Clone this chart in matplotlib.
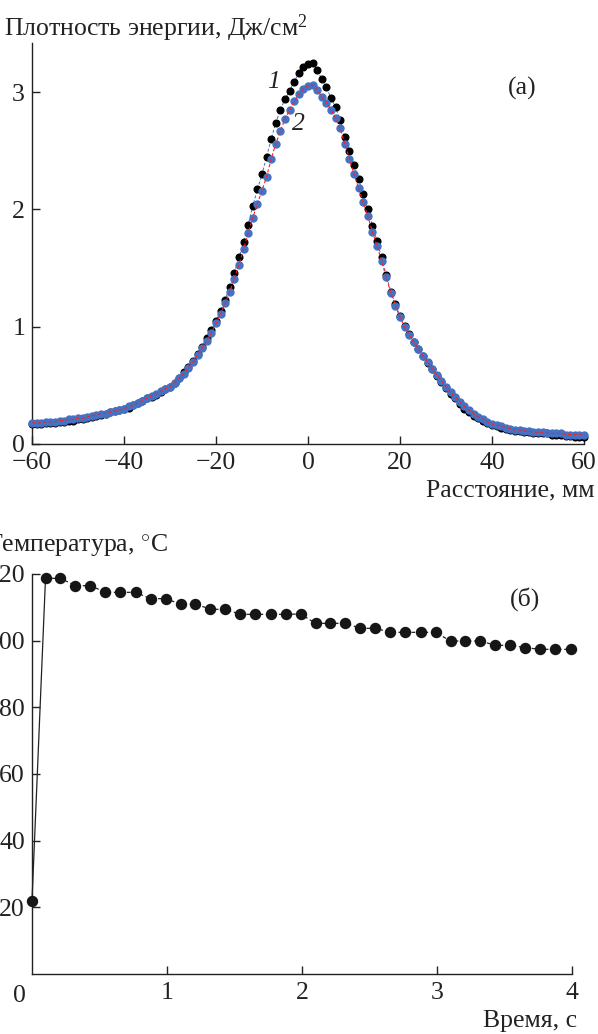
import numpy as np
import matplotlib
matplotlib.use("Agg")
import matplotlib.pyplot as plt

plt.rcParams['font.family'] = ['Liberation Serif', 'DejaVu Serif']
plt.rcParams['mathtext.fontset'] = 'custom'
plt.rcParams['mathtext.rm'] = 'Liberation Serif'
plt.rcParams['mathtext.it'] = 'Liberation Serif:italic'

# ---- (а) energy density profiles ----
distance_mm = list(range(-60, 61))

profile_1 = [
    0.17, 0.17, 0.17, 0.18, 0.18, 0.18, 0.19, 0.19, 0.20, 0.20,   # -60..-51
    0.21, 0.21, 0.22, 0.23, 0.24, 0.25, 0.26, 0.27, 0.28, 0.29,   # -50..-41
    0.30, 0.31, 0.33, 0.35, 0.37, 0.39, 0.40, 0.42, 0.44, 0.47,   # -40..-31
    0.49, 0.52, 0.56, 0.61, 0.66, 0.71, 0.77, 0.83, 0.90, 0.97,   # -30..-21
    1.05, 1.13, 1.23, 1.34, 1.46, 1.59, 1.72, 1.87, 2.03, 2.17,   # -20..-11
    2.30, 2.45, 2.60, 2.74, 2.85, 2.94, 3.01, 3.09, 3.16, 3.21,   # -10..-1
    3.24,                                                         # 0
    3.25, 3.19, 3.11, 3.04, 2.95, 2.87, 2.76, 2.62, 2.50, 2.38,   # 1..10
    2.26, 2.13, 2.00, 1.86, 1.73, 1.59, 1.44, 1.30, 1.19, 1.09,   # 11..20
    1.01, 0.94, 0.87, 0.81, 0.75, 0.69, 0.64, 0.58, 0.53, 0.48,   # 21..30
    0.43, 0.39, 0.34, 0.30, 0.27, 0.24, 0.22, 0.20, 0.18, 0.16,   # 31..40
    0.15, 0.14, 0.13, 0.12, 0.11, 0.11, 0.10, 0.10, 0.09, 0.09,   # 41..50
    0.09, 0.09, 0.08, 0.08, 0.08, 0.07, 0.07, 0.06, 0.06, 0.06,   # 51..60
]

profile_2 = [
    0.18, 0.18, 0.18, 0.19, 0.19, 0.19, 0.20, 0.20, 0.21, 0.21,
    0.22, 0.22, 0.23, 0.24, 0.25, 0.26, 0.26, 0.27, 0.28, 0.29,
    0.30, 0.32, 0.33, 0.35, 0.37, 0.39, 0.41, 0.43, 0.45, 0.47,
    0.49, 0.52, 0.56, 0.60, 0.65, 0.70, 0.76, 0.82, 0.88, 0.95,
    1.03, 1.11, 1.20, 1.30, 1.41, 1.53, 1.66, 1.80, 1.93, 2.05,
    2.16, 2.28, 2.43, 2.56, 2.67, 2.77, 2.85, 2.92, 2.98, 3.03,
    3.05,
    3.06, 3.02, 2.96, 2.91, 2.85, 2.78, 2.69, 2.56, 2.43, 2.30,
    2.18, 2.06, 1.94, 1.81, 1.69, 1.56, 1.42, 1.29, 1.18, 1.08,
    1.00, 0.93, 0.87, 0.81, 0.75, 0.70, 0.64, 0.59, 0.54, 0.49,
    0.44, 0.40, 0.36, 0.32, 0.29, 0.26, 0.23, 0.21, 0.19, 0.17,
    0.16, 0.15, 0.14, 0.13, 0.12, 0.12, 0.11, 0.11, 0.10, 0.10,
    0.10, 0.09, 0.09, 0.09, 0.09, 0.08, 0.08, 0.08, 0.08, 0.08,
]

x_ticks_a = [-60, -40, -20, 0, 20, 40, 60]
x_ticklabels_a = ['\u221260', '\u221240', '\u221220', '0', '20', '40', '60']
y_ticks_a = [0, 1, 2, 3]

# ---- (б) temperature vs time ----
time_s = [0.0] + [round(0.1 + 0.1111 * k, 3) for k in range(36)]
temperature_c = [
    22.0,
    118.7, 118.7, 116.5, 116.5, 114.5, 114.5, 114.5, 112.6, 112.6, 111.0,
    111.0, 109.4, 109.4, 107.9, 107.9, 107.9, 107.9, 108.0, 105.2, 105.2,
    105.2, 103.7, 103.7, 102.5, 102.5, 102.5, 102.5, 99.9, 99.9, 99.9,
    98.6, 98.6, 97.9, 97.4, 97.4, 97.4,
]
x_ticks_b = [1, 2, 3, 4]
y_ticks_b = [20, 40, 60, 80, 100, 120]

W, H = 598, 1034
fig = plt.figure(figsize=(W / 100, H / 100), dpi=100)

FS = 18.5
INK = '#222222'
BLUE = '#4472C4'


def fx(px):
    return px / W


def fy(py):
    return 1 - py / H


def style_axes(ax):
    for side in ('top', 'right'):
        ax.spines[side].set_visible(False)
    for side in ('left', 'bottom'):
        ax.spines[side].set_linewidth(1.0)
        ax.spines[side].set_color(INK)
    ax.tick_params(direction='in', length=6, width=1.0, colors=INK,
                   labelsize=FS, labelcolor=INK)
    ax.tick_params(axis='x', pad=6)
    ax.tick_params(axis='y', pad=5)


# panel (а)
ax1 = fig.add_axes([fx(32), fy(444), fx(584 - 32), (444 - 43) / H])
ax1.plot(distance_mm, profile_1, ls=(0, (3, 2)), lw=0.7, color=BLUE, zorder=2)
ax1.plot(distance_mm, profile_1, ls='none', marker='o', ms=4.8,
         color='black', zorder=3, clip_on=False)
ax1.plot(distance_mm, profile_2, ls='none', marker='o', ms=5.0,
         color=BLUE, zorder=4, clip_on=False)
ax1.plot(distance_mm, profile_2, ls=(0, (3, 2)), lw=0.8, color='#ff2020', zorder=5)
ax1.set_xlim(-60, 60)
ax1.set_ylim(0, (444 - 43) / 117.3)
ax1.set_xticks(x_ticks_a)
ax1.set_xticklabels(x_ticklabels_a)
ax1.set_yticks(y_ticks_a)
style_axes(ax1)

ax1.text(-7.5, 3.09, '1', fontsize=FS, style='italic', color=INK,
         ha='center', va='center')
ax1.text(-2.0, 2.73, '2', fontsize=FS, style='italic', color=INK,
         ha='center', va='center')
ax1.text(46.5, 3.03, '(а)', fontsize=FS, color=INK, ha='center', va='center')

fig.text(fx(4), fy(28), 'Плотность энергии, Дж/см$^2$', fontsize=FS,
         color=INK, ha='left', va='center')
fig.text(fx(595), fy(490), 'Расстояние, мм', fontsize=FS, color=INK,
         ha='right', va='center')

# panel (б)
ax2 = fig.add_axes([fx(32), fy(974), fx(572 - 32), (974 - 574) / H])
ax2.plot(time_s[:2], temperature_c[:2], ls='-', lw=0.9, color=INK,
         zorder=2, clip_on=False)
ax2.plot(time_s[1:], temperature_c[1:], ls=(0, (3, 2.2)), lw=0.9,
         color=INK, zorder=2, clip_on=False)
ax2.plot(time_s, temperature_c, ls='none', marker='o', ms=7.2,
         color='#161616', zorder=3, clip_on=False)
ax2.set_xlim(0, 4)
ax2.set_ylim(0, 120)
ax2.set_xticks(x_ticks_b)
ax2.set_yticks(y_ticks_b)
style_axes(ax2)

ax2.text(3.65, 112.5, '(б)', fontsize=FS, color=INK, ha='center', va='center')

fig.text(fx(19), fy(996), '0', fontsize=FS, color=INK, ha='center', va='center')
fig.text(fx(-14), fy(545), 'Температура, $^{\\circ}$C', fontsize=FS,
         color=INK, ha='left', va='center')
fig.text(fx(577), fy(1021), 'Время, с', fontsize=FS, color=INK,
         ha='right', va='center')

fig.savefig('out.png', dpi=100)
